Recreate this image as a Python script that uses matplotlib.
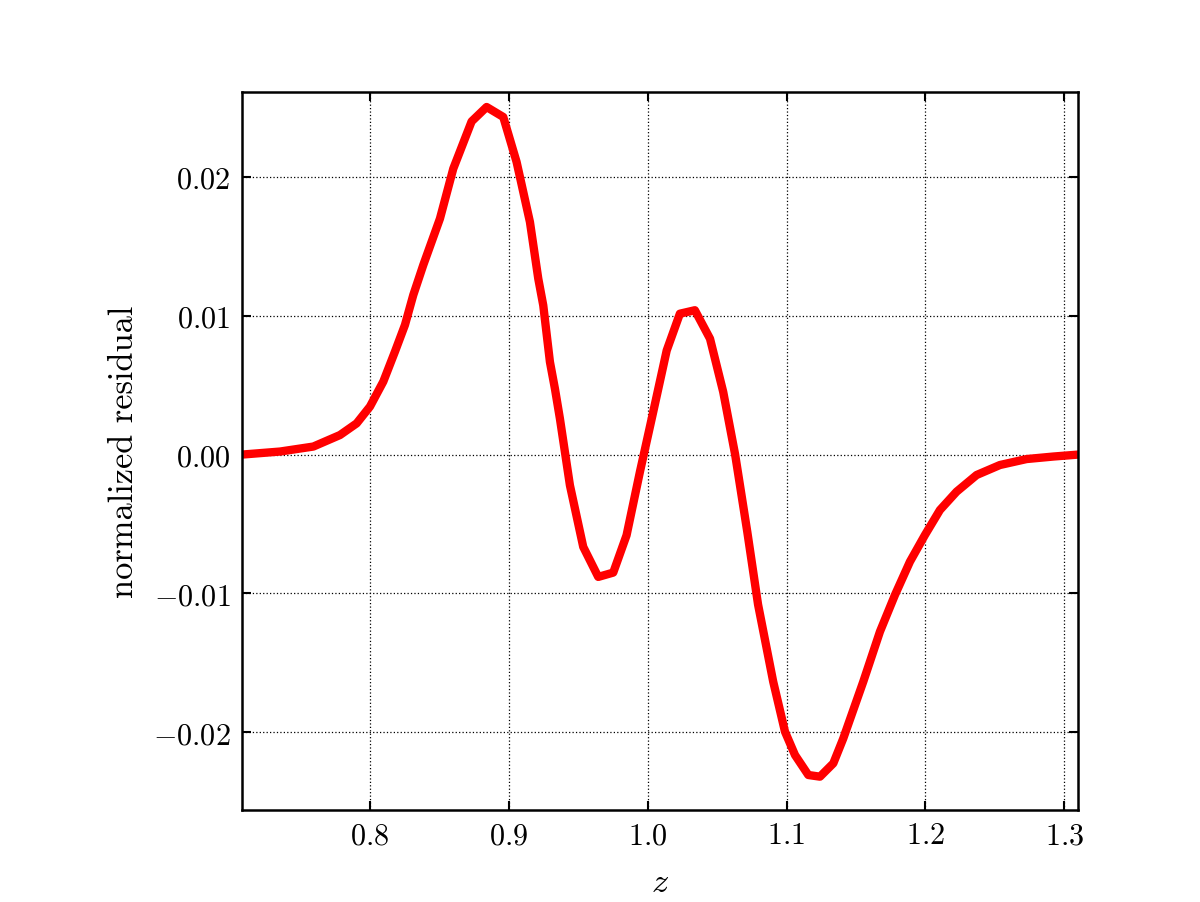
import matplotlib
matplotlib.use("Agg")
import matplotlib.pyplot as plt

# ---- data ----
z_vals = [0.7076, 0.7352, 0.7592, 0.7784, 0.7904, 0.8000, 0.8096, 0.8180,
          0.8252, 0.8312, 0.8384, 0.8504, 0.8600, 0.8732, 0.8840,
          0.8960, 0.9056, 0.9152, 0.9212, 0.9248, 0.9296, 0.9332, 0.9368,
          0.9440, 0.9536, 0.9644, 0.9752, 0.9848, 0.9944, 1.0040, 1.0137,
          1.0232, 1.0340, 1.0449, 1.0544, 1.0630, 1.0718, 1.0795, 1.0904,
          1.0989, 1.1061, 1.1157, 1.1241, 1.1337, 1.1409, 1.1553, 1.1673,
          1.1781, 1.1889, 1.1997, 1.2105, 1.2225, 1.2369, 1.2537, 1.2729,
          1.2921, 1.3099]
residual = [0.00000, 0.00022, 0.00058, 0.00141, 0.00225, 0.00346, 0.00526, 0.00742,
            0.00934, 0.01150, 0.01366, 0.01700, 0.02060, 0.02400, 0.02504,
            0.02432, 0.02108, 0.01676, 0.01268, 0.01075, 0.00668, 0.00475, 0.00259,
            -0.00221, -0.00665, -0.00881, -0.00850, -0.00581, -0.00125, 0.00308, 0.00750,
            0.01015, 0.01040, 0.00835, 0.00452, 0.00000, -0.00560, -0.01080, -0.01635,
            -0.01996, -0.02164, -0.02308, -0.02320, -0.02224, -0.02044, -0.01635, -0.01275,
            -0.01011, -0.00771, -0.00579, -0.00399, -0.00267, -0.00147, -0.00075, -0.00032,
            -0.00014, 0.00000]

x_ticks = [0.8, 0.9, 1.0, 1.1, 1.2, 1.3]
y_ticks = [-0.02, -0.01, 0.00, 0.01, 0.02]

plt.rcParams.update({
    "font.family": "serif",
    "font.serif": ["cmr10", "DejaVu Serif"],
    "mathtext.fontset": "cm",
    "axes.formatter.use_mathtext": True,
    "axes.unicode_minus": True,
})

fig = plt.figure(figsize=(8, 6.02), dpi=150)
ax = fig.add_axes([0.2014, 0.1019, 0.8983 - 0.2014, 0.8967 - 0.1019])

ax.plot(z_vals, residual, color="#ff0000", linewidth=4, solid_joinstyle="round")

ax.set_xlim(0.7076, 1.3099)
ax.set_ylim(-0.0256, 0.0261)
ax.set_xticks(x_ticks)
ax.set_yticks(y_ticks)
ax.xaxis.set_major_formatter(matplotlib.ticker.FormatStrFormatter(r"$%.1f$"))
ax.yaxis.set_major_formatter(matplotlib.ticker.FuncFormatter(
    lambda v, p: r"$%.2f$" % (0.0 if abs(v) < 1e-12 else v)))

ax.grid(True, color="black", linewidth=0.6, linestyle=(0, (1, 1.75)))
ax.tick_params(which="both", direction="in", top=True, right=True,
               length=4.2, width=1.0, labelsize=14.5, pad=5.5)
for sp in ax.spines.values():
    sp.set_linewidth(1.2)

ax.set_xlabel(r"$z$", fontsize=16.5, labelpad=8)
ax.set_ylabel("normalized residual", fontsize=16.5, labelpad=6)

fig.savefig("out.png", dpi=150)
